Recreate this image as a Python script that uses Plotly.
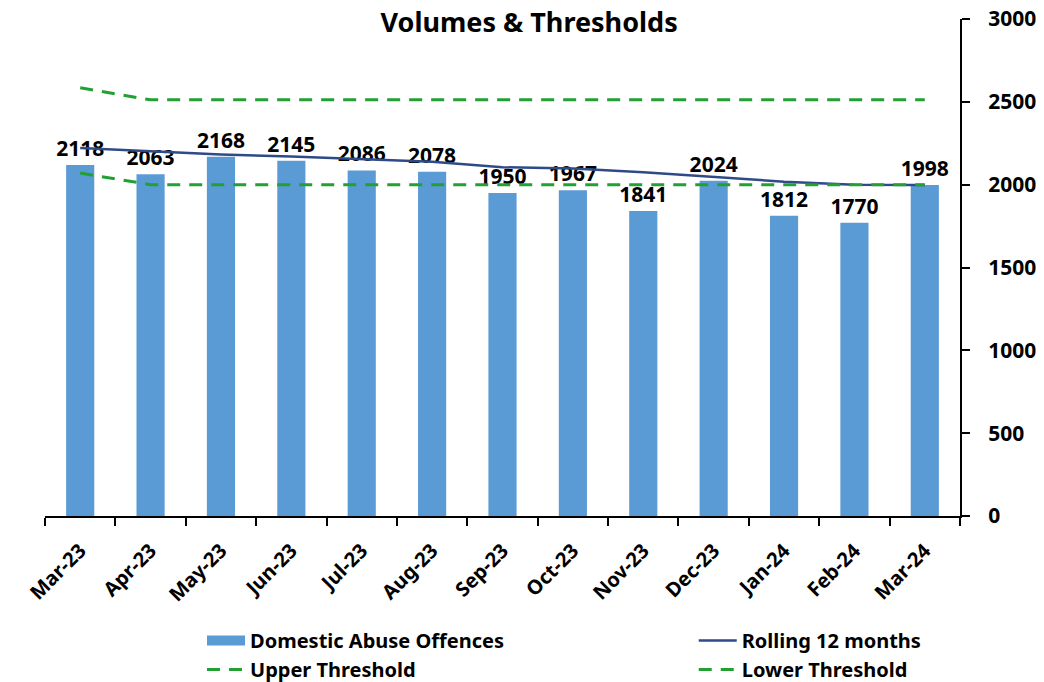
import plotly.graph_objects as go

months = ["Mar-23", "Apr-23", "May-23", "Jun-23", "Jul-23", "Aug-23", "Sep-23",
          "Oct-23", "Nov-23", "Dec-23", "Jan-24", "Feb-24", "Mar-24"]
offences = [2118, 2063, 2168, 2145, 2086, 2078, 1950, 1967, 1841, 2024, 1812, 1770, 1998]
rolling = [2221, 2200, 2182, 2170, 2152, 2138, 2105, 2098, 2075, 2048, 2018, 2000, 1998]
upper = [2585, 2512, 2512, 2512, 2512, 2512, 2512, 2512, 2512, 2512, 2512, 2512, 2512]
lower = [2070, 2000, 2000, 2000, 2000, 2000, 2000, 2000, 2000, 2000, 2000, 2000, 2000]

FONT = "Noto Sans"
bar_col = "#5B9BD5"
navy = "#2E4A87"
green = "#22A032"
LABEL_SIZE = 21
XTICK_SIZE = 20
LEG_SIZE = 20
DASH = "13px,9px"

fig = go.Figure()
fig.add_trace(go.Bar(x=months, y=offences, name="Domestic Abuse Offences",
                     marker=dict(color=bar_col, line=dict(width=0)),
                     text=[str(v) for v in offences], textposition="outside",
                     constraintext="none",
                     textfont=dict(family=FONT, size=LABEL_SIZE, color="black", weight="bold"),
                     cliponaxis=False, showlegend=False))
# legend swatch for the bars (wide rectangle like the reference)
fig.add_trace(go.Scatter(x=[None], y=[None], name="Domestic Abuse Offences", mode="lines",
                         line=dict(color=bar_col, width=18), legend="legend"))
fig.add_trace(go.Scatter(x=months, y=rolling, name="Rolling 12 months", mode="lines",
                         line=dict(color=navy, width=2.5), legend="legend2"))
fig.add_trace(go.Scatter(x=months, y=upper, name="Upper Threshold", mode="lines",
                         line=dict(color=green, width=3, dash=DASH), legend="legend"))
fig.add_trace(go.Scatter(x=months, y=lower, name="Lower Threshold", mode="lines",
                         line=dict(color=green, width=3, dash=DASH), legend="legend2"))

leg_common = dict(orientation="v", yref="container", xref="paper",
                  y=0.0905, yanchor="top", xanchor="left", tracegroupgap=0,
                  font=dict(family=FONT, size=LEG_SIZE, color="black", weight="bold"),
                  bgcolor="rgba(0,0,0,0)", itemwidth=38)

fig.update_layout(
    width=1036, height=674,
    margin=dict(l=37, r=84, t=11, b=166),
    paper_bgcolor="white", plot_bgcolor="white",
    title=dict(text="<b>Volumes & Thresholds</b>", x=0.503, xanchor="center",
               xref="container", y=0.978, yanchor="middle", yref="container",
               font=dict(family=FONT, size=27, color="black")),
    bargap=0.6,
    showlegend=True,
    legend=dict(x=0.1716, **leg_common),
    legend2=dict(x=0.709, **leg_common),
    font=dict(family=FONT, color="black"),
)
fig.update_xaxes(showline=True, linecolor="black", linewidth=2,
                 ticks="outside", tickson="boundaries", ticklen=8, tickwidth=2,
                 tickcolor="black", tickangle=-45, ticklabelstandoff=13,
                 tickfont=dict(family=FONT, size=XTICK_SIZE, color="black", weight="bold"),
                 showgrid=False, automargin=False)
fig.update_yaxes(side="right", range=[0, 3000], dtick=500, showline=True,
                 linecolor="black", linewidth=2, ticks="outside", ticklen=8,
                 tickwidth=2, tickcolor="black", showgrid=False, zeroline=False,
                 ticklabelstandoff=14, automargin=False, ticklabeloverflow="allow",
                 tickfont=dict(family=FONT, size=LABEL_SIZE, color="black", weight="bold"))

fig.write_html("out.html")
